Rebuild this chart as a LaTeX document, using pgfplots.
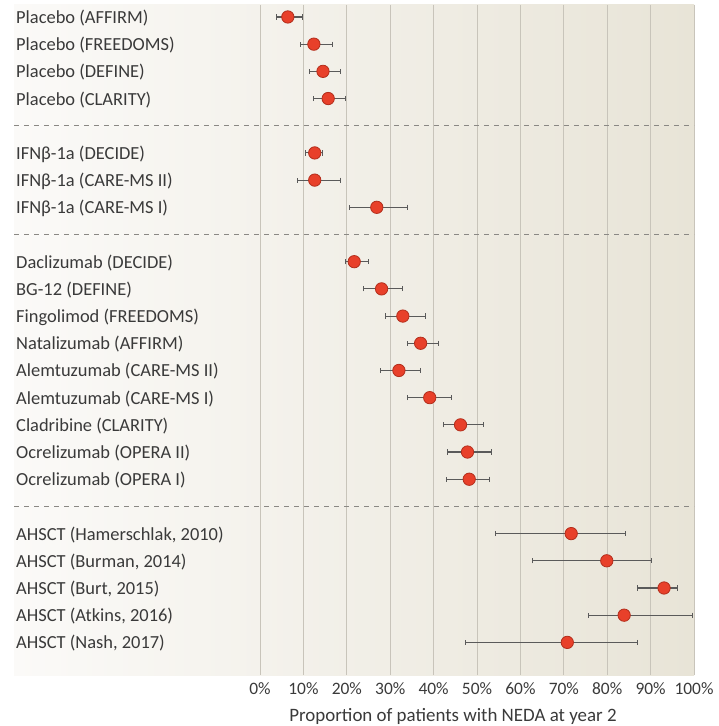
\documentclass[border=0pt]{standalone}
\usepackage{pgfplots}
\pgfplotsset{compat=1.18}
\usepackage{pgfplotstable}
\usepackage{fontspec}
\setmainfont{Carlito}
\definecolor{bgL}{HTML}{FBFAF8}
\definecolor{bgR}{HTML}{E8E4D7}
\definecolor{gridc}{HTML}{C8C4BA}
\definecolor{txt}{HTML}{3A3A3A}
\definecolor{ebar}{HTML}{5A5A5A}
\definecolor{ballF}{HTML}{E8402A}
\definecolor{ballD}{HTML}{B32E1C}
\definecolor{dashc}{HTML}{8A8884}

\pgfplotstableread{
y  x     lo    hi
1  6.4   3.8   9.8
2  12.4  9.4   16.7
3  14.5  11.4  18.6
4  15.7  12.3  19.7
6  12.6  10.4  14.5
7  12.6  8.6   18.6
8  26.9  20.6  34.0
10 21.7  19.8  24.9
11 28.0  23.9  32.9
12 32.9  28.9  38.1
13 37.0  33.9  41.2
14 32.0  27.8  37.0
15 39.1  33.9  44.1
16 46.2  42.2  51.4
17 47.8  43.2  53.3
18 48.2  42.9  52.9
20 71.7  54.3  84.1
21 79.9  62.7  90.2
22 93.1  87.0  96.2
23 83.9  75.6  99.7
24 70.8  47.4  86.9
}\neda

\begin{document}
\begin{tikzpicture}
\useasboundingbox (-14bp,-51bp) rectangle (705bp,675bp);
\begin{axis}[
  at={(0,0)}, anchor=south west, scale only axis,
  width=680bp, height=670bp,
  xmin=-56.7, xmax=100, ymin=0.56, ymax=25.2, y dir=reverse,
  axis line style={draw=none},
  axis background/.style={left color=bgL, right color=bgR},
  xtick={0,10,20,30,40,50,60,70,80,90,100},
  xticklabels={0\%,10\%,20\%,30\%,40\%,50\%,60\%,70\%,80\%,90\%,100\%},
  xmajorgrids, grid style={gridc, line width=1bp},
  major tick length=0,
  ytick={1,2,3,4,6,7,8,10,11,12,13,14,15,16,17,18,20,21,22,23,24},
  yticklabels={Placebo (AFFIRM),Placebo (FREEDOMS),Placebo (DEFINE),Placebo (CLARITY),
    IFNβ-1a (DECIDE),IFNβ-1a (CARE-MS II),IFNβ-1a (CARE-MS I),
    Daclizumab (DECIDE),BG-12 (DEFINE),Fingolimod (FREEDOMS),Natalizumab (AFFIRM),
    Alemtuzumab (CARE-MS II),Alemtuzumab (CARE-MS I),Cladribine (CLARITY),
    Ocrelizumab (OPERA II),Ocrelizumab (OPERA I),
    {AHSCT (Hamerschlak, 2010)},{AHSCT (Burman, 2014)},{AHSCT (Burt, 2015)},
    {AHSCT (Atkins, 2016)},{AHSCT (Nash, 2017)}},
  yticklabel style={anchor=west, inner sep=0pt, xshift=2bp, yshift=-1bp, text=txt,
    font=\fontsize{18.5}{20}\selectfont},
  xticklabel style={anchor=base, inner sep=0pt, yshift=-19bp, text=txt,
    font=\fontsize{17.5}{19}\selectfont},
  xlabel={Proportion of patients with NEDA at year 2},
  xlabel style={at={(rel axis cs:0.6456,0)}, anchor=base, inner sep=0pt, yshift=-46bp, text=txt,
    font=\fontsize{19}{21}\selectfont},
  clip=false,
]
\draw[dashc, line width=0.9bp, dash pattern=on 5bp off 5bp] (axis cs:-56.7,5) -- (axis cs:100,5);
\draw[dashc, line width=0.9bp, dash pattern=on 5bp off 5bp] (axis cs:-56.7,9) -- (axis cs:100,9);
\draw[dashc, line width=0.9bp, dash pattern=on 5bp off 5bp] (axis cs:-56.7,19) -- (axis cs:100,19);
\addplot[only marks, mark=*, mark size=6.2pt,
  mark options={fill=ballF, draw=ballD, line width=0.8bp},
  error bars/.cd, x dir=both, x explicit,
  error bar style={ebar, line width=1.1bp},
  error mark options={ebar, mark size=2.6pt, line width=1bp, rotate=90}]
  table[x=x, y=y,
    x error plus expr=\thisrow{hi}-\thisrow{x},
    x error minus expr=\thisrow{x}-\thisrow{lo}] {\neda};
\end{axis}
\end{tikzpicture}
\end{document}
